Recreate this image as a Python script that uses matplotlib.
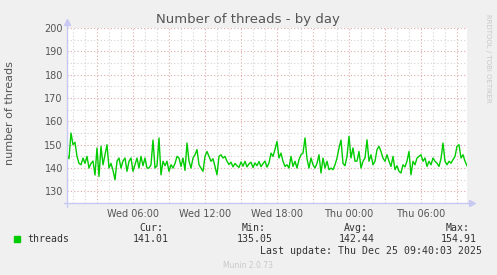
import matplotlib.pyplot as plt
import numpy as np

threads = [
    145.7, 144.0, 155.0, 150.0, 151.0, 145.0, 142.0, 141.4, 144.3, 142.0,
    145.0, 140.0, 142.0, 143.0, 137.0, 148.6, 136.4, 149.3, 141.4, 145.7,
    150.0, 140.0, 142.0, 139.0, 135.0, 142.9, 144.3, 140.0, 143.0, 144.3,
    138.6, 142.9, 144.3, 138.6, 141.4, 144.3, 140.0, 145.0, 141.0, 144.3,
    140.0, 140.0, 141.4, 152.0, 140.0, 141.0, 152.9, 137.1, 142.9, 141.0,
    142.9, 138.6, 141.4, 140.0, 142.0, 145.0, 144.3, 140.7, 144.3, 139.0,
    150.7, 143.0, 140.0, 144.3, 145.7, 147.9, 141.4, 140.0, 138.6, 145.0,
    147.1, 145.0, 142.9, 144.0, 140.7, 137.1, 145.0, 145.7, 144.3, 145.0,
    142.9, 141.5, 142.5, 140.5, 142.0, 141.0, 140.3, 142.6, 140.8, 142.9,
    140.5, 141.8, 142.5, 140.2, 142.2, 141.0, 142.8, 140.6, 141.9, 143.0,
    140.4, 142.2, 146.4, 145.0, 148.0, 151.4, 144.3, 146.4, 142.9, 140.7,
    141.4, 140.0, 145.0, 140.7, 142.9, 140.0, 143.6, 145.7, 146.4, 152.9,
    144.0, 140.0, 144.3, 141.4, 140.0, 142.0, 145.7, 137.9, 144.3, 140.0,
    142.9, 139.3, 140.0, 139.3, 141.4, 144.3, 148.6, 152.0, 142.0, 141.0,
    145.0, 153.6, 144.3, 148.6, 142.9, 143.0, 147.1, 140.0, 142.9, 144.3,
    152.1, 142.9, 145.7, 141.4, 142.9, 147.9, 149.3, 147.1, 144.3, 142.9,
    145.7, 142.9, 140.7, 145.0, 139.3, 141.0, 138.6, 137.9, 141.4, 140.5,
    143.0, 147.1, 137.1, 142.9, 141.4, 144.3, 145.0, 145.7, 142.9, 144.3,
    140.7, 142.9, 141.4, 144.3, 142.9, 142.1, 140.7, 144.0, 150.7, 142.9,
    141.4, 142.9, 142.1, 143.6, 145.0, 149.3, 150.0, 144.3, 145.7, 142.9,
    141.0,
]
start_hour = 0.5          # hours after Wed 00:00
step_hours = 10 / 60
label_hours = [6, 12, 18, 24, 30]
label_text = ['Wed 06:00', 'Wed 12:00', 'Wed 18:00', 'Thu 00:00', 'Thu 06:00']
y_ticks = [130, 140, 150, 160, 170, 180, 190, 200]

legend_cols = ['Cur:', 'Min:', 'Avg:', 'Max:']
legend_vals = ['141.01', '135.05', '142.44', '154.91']

hours = start_hour + np.arange(len(threads)) * step_hours

W, H = 497, 275
fig = plt.figure(figsize=(W / 100, H / 100), dpi=100, facecolor='#f0f0f0')
ax = fig.add_axes([67 / W, (H - 203.3) / H, 400 / W, (203.3 - 28) / H])
ax.set_facecolor('white')
ax.set_xlim(start_hour, hours[-1])
ax.set_ylim(124.9, 200)

dot = (0, (1, 2))
# grid: grey minor, red major
for h in range(1, 34):
    c = '#e0a8a8' if h % 3 == 0 else '#d4d4d4'
    ax.axvline(h, color=c, lw=0.8, ls=dot, zorder=1)
for v in range(130, 201, 5):
    c = '#e0a8a8' if v % 10 == 0 else '#d4d4d4'
    ax.axhline(v, color=c, lw=0.8, ls=dot, zorder=1)

ax.plot(hours, threads, color='#00cc00', lw=1, zorder=3)

ax.set_yticks(y_ticks)
ax.set_xticks(label_hours)
ax.set_xticklabels(label_text)
ax.tick_params(axis='both', labelsize=7, colors='#555555', length=0, pad=3)
ax.tick_params(axis='x', pad=4)
for s in ax.spines.values():
    s.set_visible(False)

# axes with arrows
axis_c = '#c8c8f4'
ax.plot([0, 0], [-0.02, 1.03], transform=ax.transAxes, clip_on=False,
        color=axis_c, lw=1, zorder=4)
ax.plot([-0.008, 1.01], [0, 0], transform=ax.transAxes, clip_on=False,
        color=axis_c, lw=1, zorder=4)
ax.plot([0], [1.035], marker='^', ms=4, color=axis_c, transform=ax.transAxes,
        clip_on=False)
ax.plot([1.012], [0], marker='>', ms=4, color=axis_c, transform=ax.transAxes,
        clip_on=False)

fig.text(248 / W, 1 - 19 / H, 'Number of threads - by day', ha='center',
         va='center', fontsize=9.5, color='#555555')
fig.text(10 / W, 1 - 113 / H, 'number of threads', rotation=90, ha='center',
         va='center', fontsize=8, color='#555555')
fig.text(488 / W, 1 - 58 / H, 'RRDTOOL / TOBI OETIKER', rotation=270,
         ha='center', va='center', fontsize=5, color='#c8c8c8')

# legend block
mono = 'DejaVu Sans Mono'
fig.patches.append(plt.Rectangle((14 / W, 1 - 242 / H), 6 / W, 6 / H,
                                 transform=fig.transFigure,
                                 color='#00cc00', figure=fig))
fig.text(27 / W, 1 - 239.5 / H, 'threads', family=mono, fontsize=7.1,
         color='#333333', va='center')
col_right = [163, 265.5, 368, 470]
val_right = [169, 272.7, 375, 476.7]
for lab, val, xl, xv in zip(legend_cols, legend_vals, col_right, val_right):
    fig.text(xl / W, 1 - 228 / H, lab, family=mono, fontsize=7.1,
             color='#333333', ha='right', va='center')
    fig.text(xv / W, 1 - 239.5 / H, val, family=mono, fontsize=7.1,
             color='#333333', ha='right', va='center')
fig.text(482 / W, 1 - 251.5 / H, 'Last update: Thu Dec 25 09:40:03 2025',
         family=mono, fontsize=7.1, color='#333333', ha='right', va='center')
fig.text(248 / W, 1 - 265 / H, 'Munin 2.0.73', fontsize=5.5,
         color='#c8c8c8', ha='center', va='center')

fig.savefig('out.png', dpi=100, facecolor=fig.get_facecolor())
